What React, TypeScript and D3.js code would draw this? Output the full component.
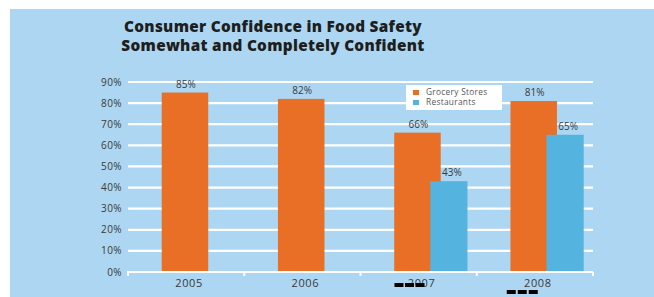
import React from 'react'
import * as d3 from 'd3'

const years = ['2005', '2006', '2007', '2008']
const grocery = [85, 82, 66, 81]
const restaurants: (number | null)[] = [null, null, 43, 65]
const yTicks = [0, 10, 20, 30, 40, 50, 60, 70, 80, 90]
const titleLines = ['Consumer Confidence in Food Safety', 'Somewhat and Completely Confident']

const W = 654
const H = 297
const BG = '#acd6f1'
const ORANGE = '#e86f25'
const BLUE = '#55b3df'
const TEXT = '#3a3a3a'
const FONT = "'Open Sans', 'Noto Sans', sans-serif"

const App: React.FC = () => {
  const margin = { top: 82, right: 61, bottom: 25, left: 128 }
  const x = d3.scaleBand<string>().domain(years).range([margin.left, W - margin.right]).padding(0)
  const y = d3.scaleLinear().domain([0, 90]).range([H - margin.bottom, margin.top])
  const bw = x.bandwidth()

  // bars are not centred in their band in the original; orange first, blue overlaps its right edge
  const orangeX = (yr: string) => x(yr)! + bw * 0.29
  const orangeW = bw * 0.4
  const blueX = (yr: string) => orangeX(yr) + bw * 0.31
  const blueW = bw * 0.32

  const base = y(0)
  const edges = [...years.map(d => x(d)!), x(years[years.length - 1])! + bw]

  return (
    <svg width={W} height={H} style={{ position: 'absolute', left: 0, top: 0 }} fontFamily={FONT}>
      <rect width={W} height={H} fill="#fff" />
      <rect x={10} y={9} width={W - 10} height={H - 9} fill={BG} />

      {titleLines.map((t, i) => (
        <text key={t} x={273} y={32 + i * 18.5} textAnchor="middle" fontSize={15.3} fontWeight={800}
          letterSpacing={0.3} fill="#1e1e1e">
          {t}
        </text>
      ))}

      {yTicks.map(t => (
        <g key={t}>
          {t > 0 && (
            <line x1={margin.left} x2={W - margin.right} y1={y(t)} y2={y(t)} stroke="#fff" strokeWidth={2.2} />
          )}
          <text x={122} y={y(t)} dy="0.35em" textAnchor="end" fontSize={10} fill={TEXT} letterSpacing={0.4}>
            {t}%
          </text>
        </g>
      ))}

      {years.map((yr, i) => (
        <g key={yr}>
          <rect x={orangeX(yr)} y={y(grocery[i])} width={orangeW} height={base - y(grocery[i])} fill={ORANGE} />
          <text x={orangeX(yr) + orangeW / 2 + 1} y={y(grocery[i]) - 5} textAnchor="middle" fontSize={10} fill={TEXT}>
            {grocery[i]}%
          </text>
          {restaurants[i] != null && (
            <>
              <rect x={blueX(yr)} y={y(restaurants[i]!)} width={blueW} height={base - y(restaurants[i]!)} fill={BLUE} />
              <text x={blueX(yr) + blueW / 2 + 3} y={y(restaurants[i]!) - 5} textAnchor="middle" fontSize={10} fill={TEXT}>
                {restaurants[i]}%
              </text>
            </>
          )}
          <text x={x(yr)! + bw / 2 + 3} y={base + 15} textAnchor="middle" fontSize={11} fill={TEXT} letterSpacing={0.6}>
            {yr}
          </text>
        </g>
      ))}

      <line x1={margin.left - 1} x2={W - margin.right} y1={base} y2={base} stroke="#fff" strokeWidth={2.2} />
      {edges.map((e, i) => (
        <line key={i} x1={e} x2={e} y1={base} y2={base + 4} stroke="#fff" strokeWidth={2} />
      ))}

      {/* legend */}
      <g transform="translate(406,85)">
        <rect width={96} height={25} fill="#fff" />
        <rect x={7} y={5} width={6} height={5} fill={ORANGE} />
        <text x={20} y={10} fontSize={8.3} letterSpacing={0.3} fill="#555">Grocery Stores</text>
        <rect x={7} y={15} width={6} height={5} fill={BLUE} />
        <text x={20} y={20} fontSize={8.3} letterSpacing={0.3} fill="#555">Restaurants</text>
      </g>

      {/* black dash marks present under the 2007 and 2008 labels */}
      {[0, 1, 2].map(k => (
        <rect key={'a' + k} x={x('2007')! + 34 + k * 10.5} y={283} width={9} height={4} fill="#000" />
      ))}
      {[0, 1, 2].map(k => (
        <rect key={'b' + k} x={x('2008')! + 30 + k * 11} y={290} width={9} height={4} fill="#000" />
      ))}
    </svg>
  )
}

export default App
